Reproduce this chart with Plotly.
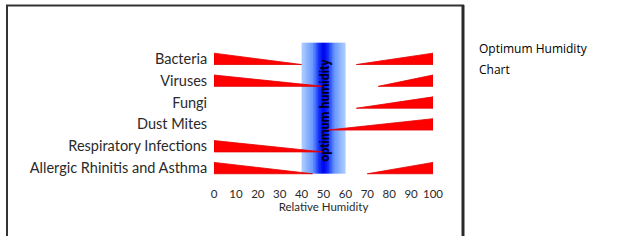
import numpy as np
import plotly.graph_objects as go

# ---- data ----
categories = ["Bacteria", "Viruses", "Fungi", "Dust Mites",
              "Respiratory Infections", "Allergic Rhinitis and Asthma"]
# humidity at which the "too dry" risk wedge ends (None = no wedge)
dry_end = [40, 50, None, None, 50, 45]
# humidity at which the "too humid" risk wedge starts (None = no wedge)
humid_start = [65, 75, 65, 52, None, 70]
optimum_range = [40, 60]
x_ticks = [0, 10, 20, 30, 40, 50, 60, 70, 80, 90, 100]
x_min, x_max = 0, 100

# ---- layout constants ----
W, H = 617, 247
ML, MR, MT, MB = 214, 184, 37, 68
HALF = 0.26
RED = "#ff0000"

n = len(categories)
ypos = [n - 1 - i for i in range(n)]  # Bacteria on top

fig = go.Figure()

# optimum band with horizontal gradient (heatmap)
xe = np.linspace(optimum_range[0], optimum_range[1], 61)
xc = (xe[:-1] + xe[1:]) / 2
mid = (optimum_range[0] + optimum_range[1]) / 2
half_w = (optimum_range[1] - optimum_range[0]) / 2
z = [list(np.abs(xc - mid) / half_w)]
fig.add_trace(go.Heatmap(
    x=xe, y=[-HALF, n - HALF], z=z, zmin=0, zmax=1,
    colorscale=[[0, "#0000f0"], [0.2, "#1030f5"], [0.5, "#6a98ff"], [1, "#b0d0ff"]],
    showscale=False, hoverinfo="skip"))

for cat, y, de, hs in zip(categories, ypos, dry_end, humid_start):
    if de is not None:
        fig.add_trace(go.Scatter(
            x=[x_min, x_min, de, x_min], y=[y - HALF, y + HALF, y - HALF, y - HALF],
            fill="toself", fillcolor=RED, mode="lines",
            line=dict(color="#e00000", width=0.8), showlegend=False, hoverinfo="skip"))
    if hs is not None:
        fig.add_trace(go.Scatter(
            x=[hs, x_max, x_max, hs], y=[y - HALF, y + HALF, y - HALF, y - HALF],
            fill="toself", fillcolor=RED, mode="lines",
            line=dict(color="#e00000", width=0.8), showlegend=False, hoverinfo="skip"))

fig.add_annotation(x=mid + 0.7, y=2.62, xref="x", yref="y", text="<b>optimum humidity</b>",
                   textangle=-90, showarrow=False,
                   font=dict(family="Roboto", size=12.5, color="#000020"))

# frame (decoration) in pixel-based paper coords
pw = W - ML - MR
ph = H - MT - MB
def px(xp):
    return (xp - ML) / pw
def py(yp):
    return (H - MB - yp) / ph
frame = "#333333"
fig.add_shape(type="line", xref="paper", yref="paper", x0=px(7), x1=px(7), y0=py(5), y1=py(236),
              line=dict(color=frame, width=2))
fig.add_shape(type="line", xref="paper", yref="paper", x0=px(6), x1=px(464), y0=py(5.5), y1=py(5.5),
              line=dict(color=frame, width=2))
fig.add_shape(type="line", xref="paper", yref="paper", x0=px(463), x1=px(463), y0=py(5), y1=py(236),
              line=dict(color="#2a2a2a", width=3))

fig.add_annotation(xref="paper", yref="paper", x=px(477), y=py(48), xanchor="left", yanchor="middle",
                   text="Optimum Humidity", showarrow=False,
                   font=dict(family="Open Sans", size=12, color="#000000"))
fig.add_annotation(xref="paper", yref="paper", x=px(477), y=py(69), xanchor="left", yanchor="middle",
                   text="Chart", showarrow=False,
                   font=dict(family="Open Sans", size=12, color="#000000"))

fig.update_layout(
    width=W, height=H, autosize=False,
    margin=dict(l=ML, r=MR, t=MT, b=MB, pad=0),
    paper_bgcolor="white", plot_bgcolor="white",
    showlegend=False,
    xaxis=dict(range=[x_min, x_max], tickvals=x_ticks, showgrid=False, zeroline=False,
               showline=False, ticks="outside", ticklen=4, tickcolor="rgba(0,0,0,0)",
               tickfont=dict(family="Lato", size=11.5, color="#2a2a2a"),
               title=dict(text="Relative Humidity", standoff=4,
                          font=dict(family="Lato", size=11.5, color="#2a2a2a"))),
    yaxis=dict(range=[-0.5, n], tickvals=ypos, ticktext=categories, showgrid=False,
               zeroline=False, showline=False, ticks="outside", ticklen=3,
               tickcolor="rgba(0,0,0,0)",
               tickfont=dict(family="Lato", size=14.5, color="#2a2a2a")),
)

fig.write_html("out.html")
